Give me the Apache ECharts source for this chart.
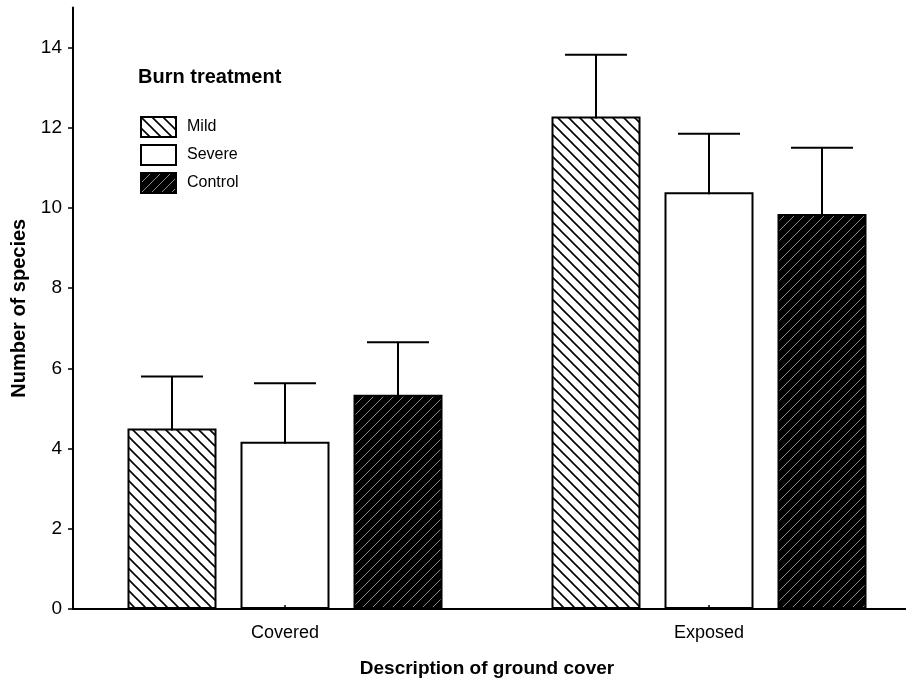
<!DOCTYPE html>
<html>
<head>
<meta charset="utf-8">
<script src="https://cdn.jsdelivr.net/npm/echarts@6/dist/echarts.min.js"></script>
<style>html,body{margin:0;padding:0;background:#fff;}#c{width:906px;height:680px;}</style>
</head>
<body>
<div id="c"></div>
<script>
var categories = ['Covered', 'Exposed'];
var seriesNames = ['Mild', 'Severe', 'Control'];
var meanMild = [4.5, 12.28];
var meanSevere = [4.17, 10.39];
var meanControl = [5.34, 9.85];
var upperMild = [5.8, 13.82];
var upperSevere = [5.63, 11.85];
var upperControl = [6.65, 11.5];
var yTicks = [0, 2, 4, 6, 8, 10, 12, 14];

var REG = "'Liberation Sans', Arial, sans-serif";
var BOLD = "'Liberation Sans', Arial, sans-serif";

function makePattern(bg, fg, lw, size, dir) {
  var c = document.createElement('canvas');
  c.width = size; c.height = size;
  var g = c.getContext('2d');
  g.fillStyle = bg; g.fillRect(0, 0, size, size);
  g.strokeStyle = fg; g.lineWidth = lw;
  g.beginPath();
  if (dir === 'back') {
    g.moveTo(-1, -1); g.lineTo(size + 1, size + 1);
    g.moveTo(-1, size - 1); g.lineTo(1, size + 1);
    g.moveTo(size - 1, -1); g.lineTo(size + 1, 1);
  } else {
    g.moveTo(-1, size + 1); g.lineTo(size + 1, -1);
    g.moveTo(-1, 1); g.lineTo(1, -1);
    g.moveTo(size - 1, size + 1); g.lineTo(size + 1, size - 1);
  }
  g.stroke();
  return c;
}
var mildFill = { image: makePattern('#fff', '#000', 1.6, 11, 'back'), repeat: 'repeat' };
var controlFill = { image: makePattern('#000', '#9a9a9a', 0.9, 10, 'fwd'), repeat: 'repeat' };

var BAR_W = 89, BAR_GAP = 24;
var means = [meanMild, meanSevere, meanControl];
var uppers = [upperMild, upperSevere, upperControl];
var fills = [mildFill, '#fff', controlFill];

var series = [];
for (var i = 0; i < 3; i++) {
  series.push({
    name: seriesNames[i], type: 'bar', data: means[i], barWidth: BAR_W, barGap: (BAR_GAP / BAR_W * 100) + '%',
    itemStyle: { color: fills[i], borderColor: '#000', borderWidth: 2 },
    emphasis: { disabled: true }, z: 2
  });
}
for (var j = 0; j < 3; j++) {
  (function (k) {
    var d = [];
    for (var n = 0; n < categories.length; n++) d.push([n, means[k][n], uppers[k][n]]);
    series.push({
      type: 'custom', name: 'err' + k, data: d, z: 4,
      renderItem: function (params, api) {
        var ci = api.value(0);
        var p0 = api.coord([ci, api.value(1)]);
        var p1 = api.coord([ci, api.value(2)]);
        var x = p0[0] + (k - 1) * (BAR_W + BAR_GAP);
        var half = 31;
        return {
          type: 'group', children: [
            { type: 'line', shape: { x1: x, y1: p0[1] + 2, x2: x, y2: p1[1] }, style: { stroke: '#000', lineWidth: 2 } },
            { type: 'line', shape: { x1: x - half, y1: p1[1], x2: x + half, y2: p1[1] }, style: { stroke: '#000', lineWidth: 2 } }
          ]
        };
      }
    });
  })(j);
}

var chart = echarts.init(document.getElementById('c'), null, { renderer: 'canvas' });
chart.setOption({
  animation: false,
  backgroundColor: '#fff',
  title: {
    text: 'Burn treatment', left: 138, top: 67, padding: 0,
    textStyle: { fontFamily: BOLD, fontWeight: 'bold', fontSize: 20, color: '#000' }
  },
  legend: {
    data: seriesNames, orient: 'vertical', left: 140, top: 116, padding: 0,
    itemWidth: 35, itemHeight: 20, itemGap: 6, icon: 'rect',
    textStyle: { fontFamily: REG, fontSize: 16, color: '#000', padding: [0, 0, 0, 6] },
    selectedMode: false
  },
  grid: { left: 73, width: 848, top: 7.5, bottom: 71, containLabel: false, outerBoundsMode: 'none' },
  xAxis: {
    type: 'category', data: categories, z: 5,
    axisLine: { lineStyle: { color: '#000', width: 2 } },
    axisTick: { show: true, alignWithLabel: true, inside: true, length: 4, lineStyle: { color: '#000', width: 1.5 } },
    axisLabel: { fontFamily: REG, fontSize: 18, color: '#000', margin: 15 },
    name: 'Description of ground cover', nameLocation: 'middle', nameGap: 50,
    nameTextStyle: { fontFamily: BOLD, fontWeight: 'bold', fontSize: 19, color: '#000', padding: [0, 20, 0, 0] }
  },
  yAxis: {
    type: 'value', min: 0, max: 15, z: 5,
    axisLine: { show: true, lineStyle: { color: '#000', width: 2 } },
    axisTick: { show: true, length: 5, customValues: yTicks, lineStyle: { color: '#000', width: 1.5 } },
    axisLabel: { fontFamily: REG, fontSize: 19, color: '#000', margin: 11, customValues: yTicks },
    splitLine: { show: false },
    name: 'Number of species', nameLocation: 'middle', nameGap: 44, nameRotate: 90,
    nameTextStyle: { fontFamily: BOLD, fontWeight: 'bold', fontSize: 20, color: '#000' }
  },
  series: series
});
</script>
</body>
</html>
